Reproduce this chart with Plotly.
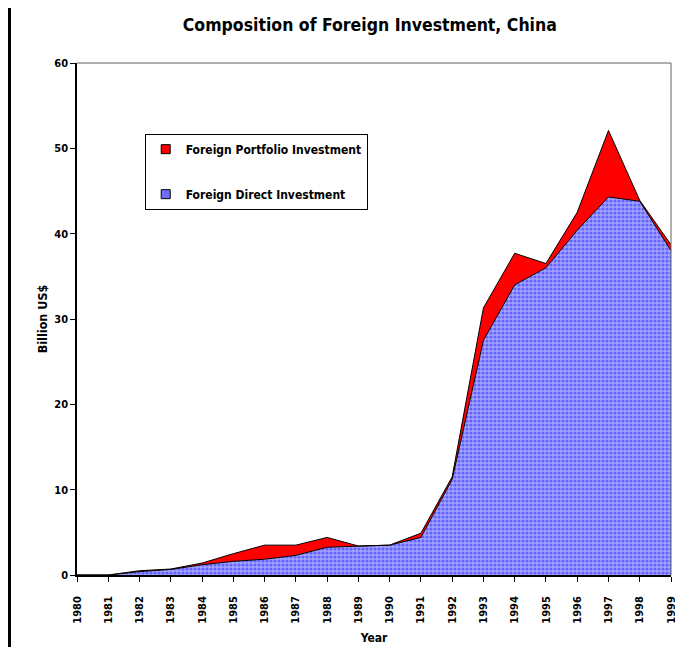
import plotly.graph_objects as go

years = [str(y) for y in range(1980, 2000)]
fdi = [0.0, 0.0, 0.4, 0.65, 1.2, 1.6, 1.85, 2.3, 3.25, 3.4, 3.5, 4.4, 11.2, 27.5, 34.0, 36.0, 40.4, 44.3, 43.8, 38.0]
total = [0.0, 0.0, 0.5, 0.7, 1.4, 2.5, 3.5, 3.5, 4.4, 3.4, 3.5, 4.9, 11.5, 31.3, 37.7, 36.5, 42.5, 52.1, 43.9, 38.7]
fpi = [round(t - f, 2) for t, f in zip(total, fdi)]
yticks = [0, 10, 20, 30, 40, 50, 60]

FONT = "DejaVu Sans Condensed, Liberation Sans Narrow, Arial Narrow, sans-serif"
BLUE = "#6f6ff5"
RED = "#ff0000"

fig = go.Figure()
fig.add_trace(go.Scatter(
    x=years, y=fdi, name="Foreign Direct Investment", stackgroup="one",
    mode="lines", line=dict(color="black", width=1),
    fillcolor=BLUE,
    fillpattern=dict(shape=".", fgcolor="#1e1eff", bgcolor="#a4a4ff", size=4, solidity=0.5),
    showlegend=False,
))
fig.add_trace(go.Scatter(
    x=years, y=fpi, name="Foreign Portfolio Investment", stackgroup="one",
    mode="lines", line=dict(color="black", width=1),
    fillcolor=RED, showlegend=False,
))
# legend entries
fig.add_trace(go.Scatter(
    x=[None], y=[None], mode="markers", name="Foreign Portfolio Investment",
    marker=dict(symbol="square", size=9, color=RED, line=dict(color="black", width=1)),
    legendgroup="b", legendrank=1,
))
fig.add_trace(go.Scatter(
    x=[None], y=[None], mode="markers", name="Foreign Direct Investment",
    marker=dict(symbol="square", size=9, color=BLUE, line=dict(color="black", width=1)),
    legendgroup="a", legendrank=2,
))

fig.update_layout(
    width=675, height=639,
    margin=dict(l=69, r=12, t=55, b=72),
    paper_bgcolor="white", plot_bgcolor="white",
    font=dict(family=FONT, color="black", size=11),
    title=dict(text="<b>Composition of Foreign Investment, China</b>", x=0.536, xanchor="center",
               y=0.973, yanchor="middle", font=dict(size=17.5, family=FONT)),
    legend=dict(x=0.114, y=0.862, xanchor="left", yanchor="top",
                bordercolor="black", borderwidth=1, bgcolor="white",
                traceorder="grouped", tracegroupgap=26,
                font=dict(size=12, family=FONT, weight="bold"),
                itemwidth=30),
    showlegend=True,
    xaxis=dict(
        type="category", range=[0, 19], tickangle=-90, automargin=False,
        showline=True, linecolor="black", linewidth=1.5, mirror=False,
        ticks="outside", ticklen=5, tickcolor="black", ticklabelstandoff=10,
        tickfont=dict(size=11, family=FONT, weight="bold"),
        title=dict(text="<b>Year</b>", font=dict(size=12, family=FONT), standoff=11),
        showgrid=False, zeroline=False,
    ),
    yaxis=dict(
        range=[0, 60], tickvals=yticks, automargin=False,
        showline=True, linecolor="black", linewidth=1.5,
        ticks="outside", ticklen=5, tickcolor="black",
        tickfont=dict(size=11, family=FONT, weight="bold"),
        title=dict(text="<b>Billion US$</b>", font=dict(size=12.5, family=FONT), standoff=4),
        showgrid=False, zeroline=False,
    ),
    shapes=[
        dict(type="line", xref="paper", yref="paper", x0=0, x1=1, y0=1, y1=1,
             line=dict(color="#606060", width=1)),
        dict(type="line", xref="paper", yref="paper", x0=1, x1=1, y0=0, y1=1,
             line=dict(color="#606060", width=1)),
        dict(type="line", xref="paper", yref="paper", x0=-67.5 / 594, x1=-67.5 / 594, y0=-0.2, y1=1.2,
             line=dict(color="black", width=3)),
    ],
)

fig.write_html("out.html")
